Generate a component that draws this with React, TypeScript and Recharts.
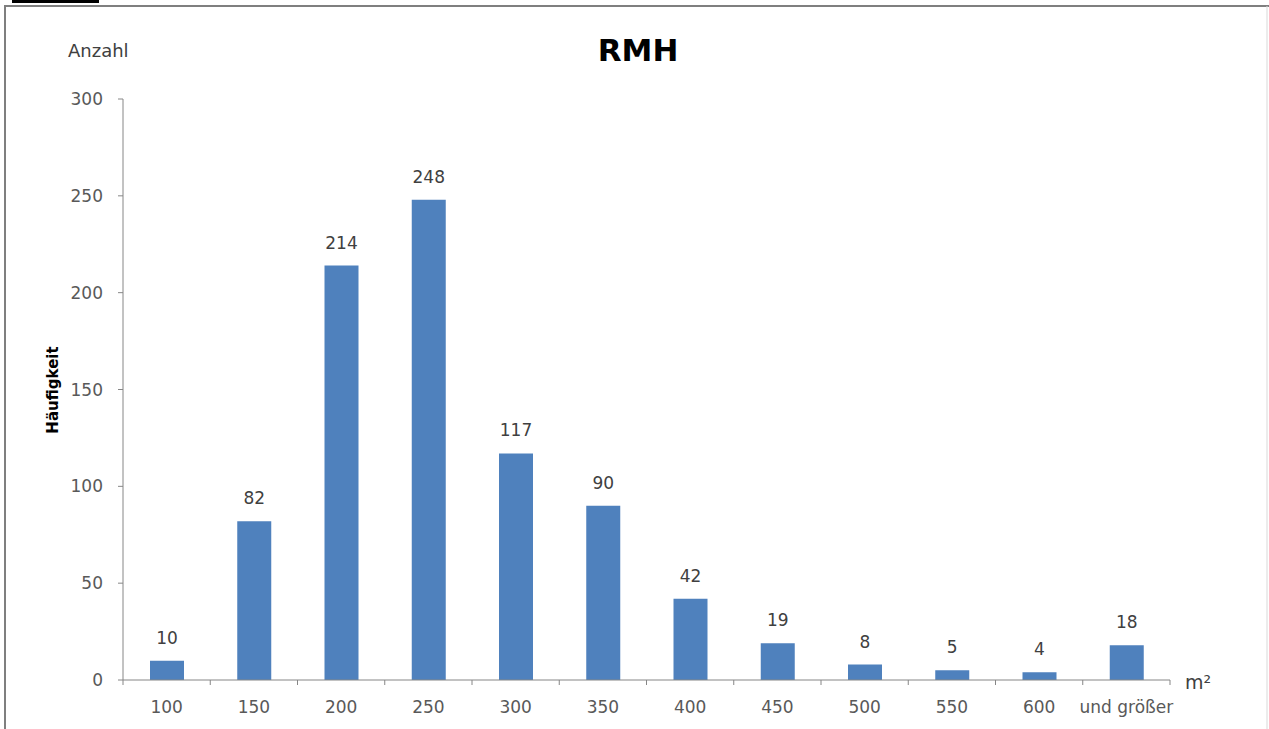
import { Bar, BarChart, LabelList, XAxis, YAxis } from 'recharts'

const CATEGORIES = ['100', '150', '200', '250', '300', '350', '400', '450', '500', '550', '600', 'und größer']
const COUNTS = [10, 82, 214, 248, 117, 90, 42, 19, 8, 5, 4, 18]
const Y_TICKS = [0, 50, 100, 150, 200, 250, 300]

const BAR_FILL = '#4f81bd'
const AXIS_STROKE = '#868686'
const TEXT_GRAY = '#595959'
const FONT = '"DejaVu Sans", sans-serif'

const W = 1269
const H = 729

const data = CATEGORIES.map((name, i) => ({ name, count: COUNTS[i] }))

// Category labels centred in each band, with the tick marks sitting on the band edges
function CategoryTick(props: any) {
  const { x, y, payload, index } = props
  const half = typeof payload?.offset === 'number' && payload.offset > 0 ? payload.offset : 43.6
  const last = index === CATEGORIES.length - 1
  return (
    <g>
      <line x1={x - half} x2={x - half} y1={y} y2={y + 5} stroke={AXIS_STROKE} />
      {last && <line x1={x + half} x2={x + half} y1={y} y2={y + 5} stroke={AXIS_STROKE} />}
      <text x={x} y={y + 33} textAnchor="middle" fontSize={17} fill={TEXT_GRAY} fontFamily={FONT}>
        {payload.value}
      </text>
    </g>
  )
}

export default function App() {
  return (
    <div
      style={{
        position: 'fixed',
        left: 0,
        top: 0,
        width: W,
        height: H,
        background: '#fff',
        fontFamily: FONT,
      }}
    >
      <BarChart
        width={W}
        height={H}
        data={data}
        margin={{ top: 99, right: 99, left: 63, bottom: 19 }}
        barSize={34}
      >
        <XAxis
          dataKey="name"
          height={30}
          interval={0}
          tickSize={0}
          tickMargin={0}
          tickLine={false}
          stroke={AXIS_STROKE}
          tick={<CategoryTick />}
        />
        <YAxis
          width={60}
          domain={[0, 300]}
          ticks={Y_TICKS}
          interval={0}
          tickSize={5}
          tickMargin={15}
          stroke={AXIS_STROKE}
          tick={{ fontSize: 17, fill: TEXT_GRAY, fontFamily: FONT }}
        />
        <Bar dataKey="count" fill={BAR_FILL} isAnimationActive={false}>
          <LabelList
            dataKey="count"
            position="top"
            offset={17}
            fill="#404040"
            fontSize={17}
            fontFamily={FONT}
          />
        </Bar>
      </BarChart>

      <svg
        width={W}
        height={H}
        style={{ position: 'absolute', left: 0, top: 0, pointerEvents: 'none' }}
      >
        <rect x={12} y={0} width={87} height={3} fill="#000" />
        <line x1={4} x2={W} y1={6} y2={6} stroke="#7f7f7f" strokeWidth={2} />
        <line x1={5} x2={5} y1={6} y2={H} stroke="#7f7f7f" strokeWidth={2} />
        <line x1={1267} x2={1267} y1={6} y2={H} stroke="#d9d9d9" strokeWidth={1} />
        <text x={638} y={50} textAnchor="middle" dominantBaseline="central" fontSize={31} fontWeight="bold" fill="#000">
          RMH
        </text>
        <text x={68} y={50} dominantBaseline="central" fontSize={18} fill="#404040">
          Anzahl
        </text>
        <text
          x={53}
          y={390}
          textAnchor="middle"
          dominantBaseline="central"
          fontSize={15}
          fontWeight="bold"
          fill="#000"
          transform="rotate(-90 53 390)"
        >
          Häufigkeit
        </text>
        <text x={1185} y={682} dominantBaseline="central" fontSize={19} fill="#404040">
          m²
        </text>
      </svg>
    </div>
  )
}
